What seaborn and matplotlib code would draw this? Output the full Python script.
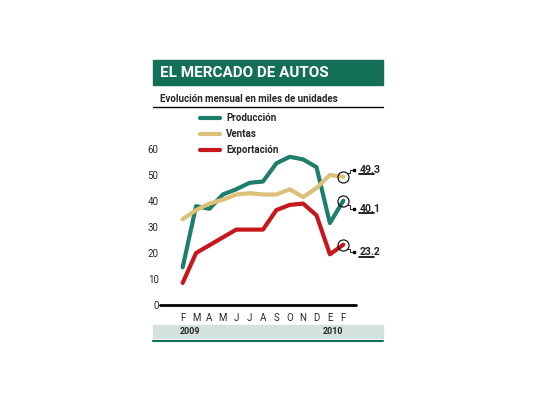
import numpy as np
import matplotlib
matplotlib.use("Agg")
import matplotlib.pyplot as plt
import seaborn as sns
import pandas as pd

sns.set_theme(style="white")
plt.rcParams["font.family"] = ["Roboto", "DejaVu Sans"]

### Data
months = ["F", "M", "A", "M", "J", "J", "A", "S", "O", "N", "D", "E", "F"]
produccion = [14.5, 38, 37, 42.5, 44.5, 47, 47.5, 54.5, 57, 56, 53, 31.5, 40.1]
ventas = [33, 36.5, 39, 40.5, 42.5, 43, 42.5, 42.5, 44.5, 41.5, 45, 50, 49.3]
exportacion = [8.5, 20, 23, 26, 29, 29, 29, 36.5, 38.5, 39, 34.5, 19.5, 23.2]
series_names = ["Producción", "Ventas", "Exportación"]
colors = ["#1e7d6b", "#dcc077", "#c8161d"]
end_labels = ["40.1", "49.3", "23.2"]

df = pd.DataFrame({"x": np.arange(len(months)), "Producción": produccion,
                   "Ventas": ventas, "Exportación": exportacion})
long = df.melt(id_vars="x", var_name="serie", value_name="valor")

W, H = 540, 405
fig = plt.figure(figsize=(W / 100, H / 100), dpi=100)
ax = fig.add_axes([178 / W, 1 - 305 / H, 184 / W, 156 / H])
sns.lineplot(data=long, x="x", y="valor", hue="serie", hue_order=series_names,
             palette=colors, linewidth=3, legend=False, ax=ax, clip_on=False)
ax.set_xlim(-0.35, 13.4)
ax.set_ylim(0, 60)
sns.despine(ax=ax, left=True, right=True, top=True)
ax.spines["bottom"].set_visible(False)
ax.set_xlabel("")
ax.set_ylabel("")
ax.set_yticks([0, 10, 20, 30, 40, 50, 60])
ax.set_xticks(df["x"])
ax.set_xticklabels(months, fontsize=7)
ax.tick_params(axis="y", labelsize=7, pad=14, length=0)
ax.tick_params(axis="x", length=0, pad=6)
ax.axhline(0, xmin=-0.1, xmax=0.97, color="black", lw=2, clip_on=False)

# end markers and callouts
last = len(months) - 1
for vals, lab, dy in [(produccion, end_labels[0], -3), (ventas, end_labels[1], 2.5),
                      (exportacion, end_labels[2], -3)]:
    v = vals[-1]
    ax.plot(last, v, "o", ms=8, mfc="none", mec="black", mew=0.8, clip_on=False)
    ax.plot([last + 0.3, last + 0.5, last + 0.5, last + 0.8],
            [v + (1.5 if dy > 0 else -1.5)] * 2 + [v + dy] * 2, color="black", lw=0.6, clip_on=False)
    ax.plot(last + 0.8, v + dy, "s", ms=2, color="black", clip_on=False)
    t = ax.text(last + 1.2, v + dy, lab, fontsize=7.5, fontweight="bold", va="center",
                ha="left", color="#222", clip_on=False)
    ax.plot([last + 1.2, last + 2.3], [v + dy - 1.6] * 2, color="black", lw=1.2, clip_on=False)

# header
fig.patches.append(plt.Rectangle((153 / W, 1 - 85 / H), 230 / W, 25 / H,
                                 transform=fig.transFigure, color="#136f55"))
fig.text(160 / W, 1 - 73 / H, "EL MERCADO DE AUTOS", color="white", fontsize=11,
         fontweight="bold", va="center")
fig.text(160 / W, 1 - 99 / H, "Evolución mensual en miles de unidades", fontsize=7,
         fontweight="bold", va="center")
fig.add_artist(plt.Line2D([153 / W, 383 / W], [1 - 107 / H] * 2, color="black", lw=1))

# legend
for i, (name, c) in enumerate(zip(series_names, colors)):
    y = 1 - (118 + 16 * i) / H
    fig.add_artist(plt.Line2D([200 / W, 220 / W], [y, y], color=c, lw=3))
    fig.text(226 / W, y, name, fontsize=7, fontweight="bold", va="center")

# year band
fig.patches.append(plt.Rectangle((153 / W, 1 - 338 / H), 230 / W, 13 / H,
                                 transform=fig.transFigure, color="#d3e2de"))
fig.add_artist(plt.Line2D([153 / W, 383 / W], [1 - 341 / H] * 2, color="#136f55", lw=1.5))
fig.text(180 / W, 1 - 331 / H, "2009", fontsize=6.5, fontweight="bold", va="center")
fig.text(323 / W, 1 - 331 / H, "2010", fontsize=6.5, fontweight="bold", va="center")

fig.savefig("out.png", dpi=100)
